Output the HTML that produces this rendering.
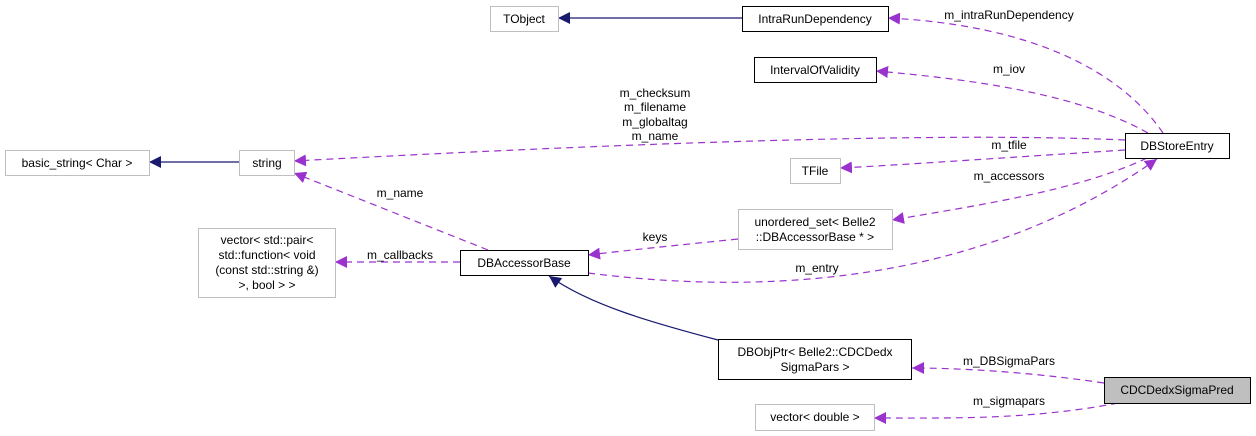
<!DOCTYPE html>
<html><head><meta charset="utf-8"><style>
body{margin:0;background:#fff;}
svg{display:block;font-family:"Liberation Sans",Helvetica,sans-serif;font-size:12px;}
</style></head><body>
<svg width="1256" height="436" viewBox="0 0 1256 436" xmlns="http://www.w3.org/2000/svg">
<defs>
<marker id="n" viewBox="0 0 10 10" refX="10" refY="5" markerWidth="12" markerHeight="12" markerUnits="userSpaceOnUse" orient="auto"><path d="M0,0L10,5L0,10z" fill="#191970"/></marker>
<marker id="p" viewBox="0 0 10 10" refX="10" refY="5" markerWidth="12" markerHeight="12" markerUnits="userSpaceOnUse" orient="auto"><path d="M0,0L10,5L0,10z" fill="#9a32cd"/></marker>
</defs>
<g fill="none" stroke="#191970" stroke-width="1.2">
<path d="M742,18L558,18" marker-end="url(#n)"/>
<path d="M239,162L149,162" marker-end="url(#n)"/>
<path d="M718,340C650,322 590,305 549,276" marker-end="url(#n)"/>
</g>
<g fill="none" stroke="#9a32cd" stroke-width="1.2" stroke-dasharray="7,5">
<path d="M1163,133C1120,70 1030,25 888,18" marker-end="url(#p)"/>
<path d="M1148,133C1080,95 980,80 876,71" marker-end="url(#p)"/>
<path d="M1125,140C900,130 500,150 294,161" marker-end="url(#p)"/>
<path d="M1125,150C1000,158 900,165 840,168" marker-end="url(#p)"/>
<path d="M1147,158C1080,190 980,205 892,220" marker-end="url(#p)"/>
<path d="M588,273C800,300 1000,270 1157,159" marker-end="url(#p)"/>
<path d="M738,239C680,245 630,250 588,255" marker-end="url(#p)"/>
<path d="M488,250L294,173" marker-end="url(#p)"/>
<path d="M460,262L335,262" marker-end="url(#p)"/>
<path d="M1104,383C1030,372 960,368 912,368" marker-end="url(#p)"/>
<path d="M1118,403C1030,420 950,418 874,418" marker-end="url(#p)"/>
</g>
<g stroke-width="1">
<rect x="490.5" y="6.5" width="68" height="25" fill="#fff" stroke="#bfbfbf"/>
<rect x="5.5" y="150.5" width="144" height="25" fill="#fff" stroke="#bfbfbf"/>
<rect x="239.5" y="150.5" width="55" height="25" fill="#fff" stroke="#bfbfbf"/>
<rect x="198.5" y="228.5" width="137" height="69" fill="#fff" stroke="#bfbfbf"/>
<rect x="460.5" y="250.5" width="128" height="25" fill="#fff" stroke="#000"/>
<rect x="742.5" y="6.5" width="146" height="25" fill="#fff" stroke="#000"/>
<rect x="754.5" y="57.5" width="122" height="25" fill="#fff" stroke="#000"/>
<rect x="1125.5" y="133.5" width="104" height="25" fill="#fff" stroke="#000"/>
<rect x="790.5" y="158.5" width="50" height="25" fill="#fff" stroke="#bfbfbf"/>
<rect x="738.5" y="209.5" width="154" height="40" fill="#fff" stroke="#bfbfbf"/>
<rect x="718.5" y="339.5" width="193" height="40" fill="#fff" stroke="#000"/>
<rect x="1104.5" y="377.5" width="146" height="26" fill="#bfbfbf" stroke="#000"/>
<rect x="755.5" y="404.5" width="119" height="26" fill="#fff" stroke="#bfbfbf"/>
</g>
<g text-anchor="middle" fill="#000">
<text x="524" y="23">TObject</text>
<text x="77" y="167">basic_string&lt; Char &gt;</text>
<text x="267" y="167">string</text>
<text x="267" y="244">vector&lt; std::pair&lt;</text>
<text x="267" y="259">std::function&lt; void</text>
<text x="267" y="274">(const std::string &amp;)</text>
<text x="267" y="289">&gt;, bool &gt; &gt;</text>
<text x="524" y="267">DBAccessorBase</text>
<text x="815" y="23">IntraRunDependency</text>
<text x="815" y="74">IntervalOfValidity</text>
<text x="1177" y="150">DBStoreEntry</text>
<text x="815" y="175">TFile</text>
<text x="815" y="226">unordered_set&lt; Belle2</text>
<text x="815" y="241">::DBAccessorBase * &gt;</text>
<text x="815" y="356">DBObjPtr&lt; Belle2::CDCDedx</text>
<text x="815" y="371">SigmaPars &gt;</text>
<text x="1177" y="394">CDCDedxSigmaPred</text>
<text x="815" y="421">vector&lt; double &gt;</text>
<text x="1009" y="19">m_intraRunDependency</text>
<text x="1009" y="73">m_iov</text>
<text x="655" y="97">m_checksum</text>
<text x="655" y="111">m_filename</text>
<text x="655" y="126">m_globaltag</text>
<text x="655" y="140">m_name</text>
<text x="1009" y="149">m_tfile</text>
<text x="1009" y="180">m_accessors</text>
<text x="655" y="241">keys</text>
<text x="817" y="272">m_entry</text>
<text x="400" y="197">m_name</text>
<text x="400" y="259">m_callbacks</text>
<text x="1009" y="365">m_DBSigmaPars</text>
<text x="1009" y="405">m_sigmapars</text>
</g>
</svg>
</body></html>
